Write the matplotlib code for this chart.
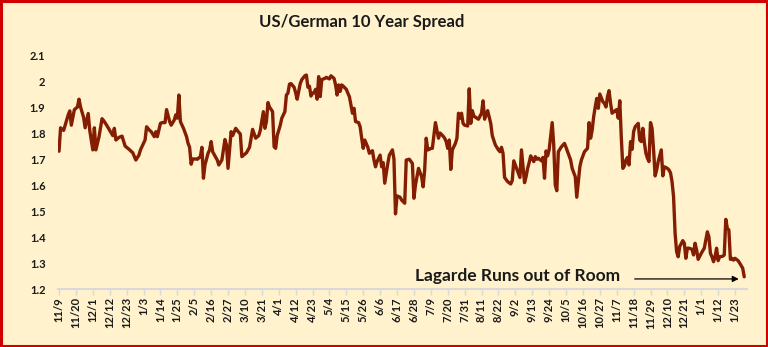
import matplotlib
matplotlib.use("Agg")
import matplotlib.pyplot as plt
import matplotlib.dates as mdates
from matplotlib.patches import Rectangle
import pandas as pd

# Daily US 10y minus German 10y yield spread (percentage points)
dates = [
    "2021-11-09", "2021-11-10", "2021-11-12", "2021-11-13", "2021-11-15", "2021-11-16", "2021-11-17",
    "2021-11-19", "2021-11-21", "2021-11-22", "2021-11-23", "2021-11-25", "2021-11-26", "2021-11-28",
    "2021-11-29",
    "2021-12-01", "2021-12-02", "2021-12-03", "2021-12-05", "2021-12-07", "2021-12-08", "2021-12-10",
    "2021-12-12", "2021-12-14", "2021-12-15", "2021-12-16", "2021-12-18", "2021-12-20", "2021-12-22",
    "2021-12-23", "2021-12-25", "2021-12-27", "2021-12-29", "2021-12-31",
    "2022-01-01", "2022-01-03", "2022-01-04", "2022-01-05", "2022-01-07", "2022-01-08", "2022-01-10",
    "2022-01-11", "2022-01-12", "2022-01-14", "2022-01-15", "2022-01-17", "2022-01-18", "2022-01-20",
    "2022-01-21", "2022-01-23", "2022-01-24", "2022-01-25", "2022-01-26", "2022-01-27", "2022-01-29",
    "2022-01-31",
    "2022-02-01", "2022-02-02", "2022-02-03", "2022-02-04", "2022-02-06", "2022-02-07", "2022-02-09",
    "2022-02-10", "2022-02-11", "2022-02-12", "2022-02-14", "2022-02-15", "2022-02-16", "2022-02-17",
    "2022-02-20", "2022-02-21", "2022-02-23", "2022-02-24", "2022-02-25", "2022-02-26", "2022-02-27",
    "2022-03-01", "2022-03-02", "2022-03-04", "2022-03-05", "2022-03-07", "2022-03-08", "2022-03-10",
    "2022-03-11", "2022-03-13", "2022-03-14", "2022-03-15", "2022-03-17", "2022-03-19", "2022-03-20",
    "2022-03-22", "2022-03-23", "2022-03-24", "2022-03-25", "2022-03-26", "2022-03-28", "2022-03-29",
    "2022-03-30", "2022-03-31",
    "2022-04-02", "2022-04-03", "2022-04-05", "2022-04-06", "2022-04-07", "2022-04-08", "2022-04-09",
    "2022-04-11", "2022-04-12", "2022-04-13", "2022-04-15", "2022-04-16", "2022-04-18", "2022-04-19",
    "2022-04-20", "2022-04-21", "2022-04-22", "2022-04-23", "2022-04-24", "2022-04-25", "2022-04-26",
    "2022-04-27", "2022-04-28", "2022-04-29",
    "2022-05-01", "2022-05-02", "2022-05-04", "2022-05-05", "2022-05-07", "2022-05-08", "2022-05-09",
    "2022-05-10", "2022-05-11", "2022-05-12", "2022-05-13", "2022-05-15", "2022-05-16", "2022-05-17",
    "2022-05-19", "2022-05-20", "2022-05-21", "2022-05-23", "2022-05-24", "2022-05-25", "2022-05-26",
    "2022-05-27", "2022-05-29", "2022-05-30",
    "2022-06-01", "2022-06-02", "2022-06-03", "2022-06-04", "2022-06-06", "2022-06-07", "2022-06-08",
    "2022-06-09", "2022-06-11", "2022-06-12", "2022-06-14", "2022-06-15", "2022-06-16", "2022-06-17",
    "2022-06-19", "2022-06-20", "2022-06-22", "2022-06-23", "2022-06-25", "2022-06-27", "2022-06-28",
    "2022-06-29",
    "2022-07-01", "2022-07-03", "2022-07-04", "2022-07-05", "2022-07-06", "2022-07-07", "2022-07-08",
    "2022-07-09", "2022-07-10", "2022-07-11", "2022-07-12", "2022-07-14", "2022-07-15", "2022-07-17",
    "2022-07-18", "2022-07-19", "2022-07-20", "2022-07-21", "2022-07-22", "2022-07-23", "2022-07-25",
    "2022-07-26", "2022-07-27", "2022-07-28", "2022-07-29", "2022-07-30", "2022-07-31",
    "2022-08-02", "2022-08-03", "2022-08-04", "2022-08-05", "2022-08-06", "2022-08-08", "2022-08-09",
    "2022-08-11", "2022-08-12", "2022-08-13", "2022-08-14", "2022-08-15", "2022-08-17", "2022-08-18",
    "2022-08-20", "2022-08-22", "2022-08-23", "2022-08-24", "2022-08-25", "2022-08-26", "2022-08-28",
    "2022-08-30", "2022-08-31",
    "2022-09-01", "2022-09-02", "2022-09-04", "2022-09-05", "2022-09-06", "2022-09-08", "2022-09-09",
    "2022-09-10", "2022-09-11", "2022-09-12", "2022-09-14", "2022-09-15", "2022-09-16", "2022-09-17",
    "2022-09-19", "2022-09-20", "2022-09-21", "2022-09-22", "2022-09-23", "2022-09-24", "2022-09-26",
    "2022-09-27", "2022-09-28", "2022-09-29", "2022-09-30",
    "2022-10-02", "2022-10-04", "2022-10-05", "2022-10-08", "2022-10-09", "2022-10-11", "2022-10-12",
    "2022-10-14", "2022-10-15", "2022-10-17", "2022-10-19", "2022-10-20", "2022-10-21", "2022-10-22",
    "2022-10-23", "2022-10-24", "2022-10-25", "2022-10-26", "2022-10-27", "2022-10-29", "2022-10-30",
    "2022-10-31",
    "2022-11-01", "2022-11-02", "2022-11-03", "2022-11-04", "2022-11-06", "2022-11-07", "2022-11-08",
    "2022-11-09", "2022-11-10", "2022-11-11", "2022-11-12", "2022-11-13", "2022-11-14", "2022-11-15",
    "2022-11-16", "2022-11-17", "2022-11-18", "2022-11-19", "2022-11-21", "2022-11-22", "2022-11-23",
    "2022-11-24", "2022-11-25", "2022-11-26", "2022-11-27", "2022-11-28", "2022-11-29", "2022-11-30",
    "2022-12-01", "2022-12-02", "2022-12-03", "2022-12-04", "2022-12-05", "2022-12-06", "2022-12-07",
    "2022-12-08", "2022-12-10", "2022-12-11", "2022-12-12", "2022-12-13", "2022-12-14", "2022-12-15",
    "2022-12-16", "2022-12-17", "2022-12-18", "2022-12-20", "2022-12-21", "2022-12-22", "2022-12-23",
    "2022-12-24", "2022-12-26", "2022-12-27", "2022-12-28", "2022-12-29", "2022-12-30",
    "2023-01-01", "2023-01-03", "2023-01-04", "2023-01-05", "2023-01-06", "2023-01-07", "2023-01-08",
    "2023-01-09", "2023-01-10", "2023-01-11", "2023-01-12", "2023-01-13", "2023-01-15", "2023-01-16",
    "2023-01-17", "2023-01-18", "2023-01-19", "2023-01-20", "2023-01-21", "2023-01-22", "2023-01-23",
    "2023-01-25", "2023-01-26", "2023-01-28", "2023-01-29",
]

spread = [
    1.73, 1.82, 1.81, 1.83, 1.87, 1.885, 1.83,
    1.89, 1.90, 1.93, 1.90, 1.86, 1.82, 1.875,
    1.81,
    1.735, 1.82, 1.735, 1.785, 1.855, 1.848, 1.83,
    1.81, 1.79, 1.818, 1.773, 1.783, 1.788, 1.75,
    1.745, 1.735, 1.724, 1.696, 1.715,
    1.735, 1.76, 1.773, 1.824, 1.81, 1.805, 1.786,
    1.805, 1.786, 1.837, 1.84, 1.84, 1.89, 1.844,
    1.83, 1.85, 1.87, 1.857, 1.946, 1.844, 1.818,
    1.786,
    1.76, 1.745, 1.68, 1.70, 1.70, 1.699, 1.709,
    1.745, 1.626, 1.677, 1.722, 1.735, 1.767, 1.728,
    1.696, 1.677, 1.696, 1.735, 1.775, 1.754, 1.664,
    1.805, 1.79, 1.818, 1.81, 1.796, 1.709, 1.719,
    1.724, 1.745, 1.78, 1.814, 1.78, 1.79, 1.81,
    1.882, 1.818, 1.844, 1.917, 1.90, 1.882, 1.747,
    1.741, 1.79,
    1.83, 1.857, 1.882, 1.946, 1.953, 1.988, 1.99,
    1.976, 1.955, 1.93, 1.99, 2.005, 2.02, 2.023,
    1.976, 1.98, 1.942, 1.953, 1.955, 1.968, 1.93,
    2.017, 1.94, 2.005,
    2.01, 2.014, 2.008, 2.02, 2.01, 1.985, 1.946,
    1.985, 1.96, 1.985, 1.98, 1.968, 1.953, 1.94,
    1.876, 1.895, 1.844, 1.84, 1.824, 1.78, 1.741,
    1.773, 1.745, 1.722,
    1.732, 1.696, 1.67, 1.69, 1.715, 1.67, 1.686,
    1.607, 1.683, 1.715, 1.735, 1.70, 1.489, 1.558,
    1.553, 1.542, 1.53, 1.696, 1.699, 1.683, 1.549,
    1.60,
    1.664, 1.632, 1.593, 1.658, 1.78, 1.735, 1.737,
    1.741, 1.741, 1.79, 1.84, 1.78, 1.80, 1.788,
    1.78, 1.767, 1.741, 1.773, 1.66, 1.735, 1.76,
    1.78, 1.876, 1.857, 1.876, 1.837, 1.83,
    1.827, 1.97, 1.837, 1.886, 1.865, 1.857, 1.853,
    1.876, 1.924, 1.853, 1.869, 1.886, 1.837, 1.79,
    1.754, 1.735, 1.728, 1.745, 1.722, 1.629, 1.613,
    1.604, 1.617,
    1.693, 1.677, 1.645, 1.629, 1.735, 1.609, 1.632,
    1.664, 1.686, 1.712, 1.69, 1.709, 1.699, 1.703,
    1.693, 1.706, 1.626, 1.731, 1.712, 1.735, 1.84,
    1.754, 1.60, 1.578, 1.728,
    1.747, 1.76, 1.745, 1.696, 1.664, 1.632, 1.553,
    1.67, 1.696, 1.728, 1.741, 1.84, 1.78, 1.81,
    1.863, 1.90, 1.933, 1.895, 1.95, 1.92, 1.914,
    1.90,
    1.94, 1.963, 1.914, 1.876, 1.886, 1.89, 1.857,
    1.924, 1.78, 1.664, 1.673, 1.696, 1.706, 1.677,
    1.767, 1.737, 1.805, 1.824, 1.837, 1.773, 1.767,
    1.818, 1.763, 1.722, 1.703, 1.69, 1.84, 1.818,
    1.735, 1.635, 1.658, 1.69, 1.712, 1.735, 1.635,
    1.67, 1.664, 1.658, 1.647, 1.613, 1.555, 1.414,
    1.343, 1.324, 1.363, 1.386, 1.376, 1.318, 1.357,
    1.357, 1.353, 1.331, 1.376, 1.35, 1.314,
    1.337, 1.357, 1.388, 1.42, 1.401, 1.337, 1.324,
    1.305, 1.324, 1.357, 1.309, 1.324, 1.326, 1.331,
    1.468, 1.433, 1.427, 1.314, 1.318, 1.311, 1.318,
    1.309, 1.30, 1.28, 1.247,
]

tick_labels = [
    "11/9", "11/20", "12/1", "12/12", "12/23", "1/3", "1/14", "1/25", "2/5", "2/16", "2/27",
    "3/10", "3/21", "4/1", "4/12", "4/23", "5/4", "5/15", "5/26", "6/6", "6/17", "6/28",
    "7/9", "7/20", "7/31", "8/11", "8/22", "9/2", "9/13", "9/24", "10/5", "10/16", "10/27",
    "11/7", "11/18", "11/29", "12/10", "12/21", "1/1", "1/12", "1/23",
]
tick_start = "2021-11-09"
y_ticks = [1.2, 1.3, 1.4, 1.5, 1.6, 1.7, 1.8, 1.9, 2.0, 2.1]

title = "US/German 10 Year Spread"
note = "Lagarde Runs out of Room"

BG = "#FFF2CC"
LINE = "#841E02"
FONT = ["Lato", "DejaVu Sans"]

x = pd.to_datetime(dates)
tick_dates = pd.date_range(tick_start, periods=len(tick_labels), freq="11D")

fig = plt.figure(figsize=(7.68, 3.47), dpi=100, facecolor=BG)
ax = fig.add_axes([58 / 768, 1 - 289 / 347, 689 / 768, 234 / 347])
ax.set_facecolor("none")

ax.plot(x, spread, color=LINE, linewidth=2.4, solid_joinstyle="round", solid_capstyle="round")

t0 = pd.Timestamp(tick_start)
ax.set_xlim(t0 - pd.Timedelta(hours=16), t0 + pd.Timedelta(days=447.8))
ax.set_ylim(1.2, 2.1)

ax.set_xticks(tick_dates)
ax.set_xticklabels(tick_labels, rotation=90, fontsize=8, fontweight="bold",
                   family=FONT, color="#1a1a1a")
ax.set_yticks(y_ticks)
ax.set_yticklabels([f"{v:g}" for v in y_ticks], fontsize=8, fontweight="bold",
                   family=FONT, color="#1a1a1a")

ax.tick_params(axis="x", length=4, width=1, color="#D9D9D9", pad=2)
ax.tick_params(axis="y", length=0, pad=9)
for side in ("top", "right", "left"):
    ax.spines[side].set_visible(False)
ax.spines["bottom"].set_color("#D9D9D9")
ax.spines["bottom"].set_linewidth(1.5)

fig.text(362 / 768, 1 - 22 / 347, title, ha="center", va="center",
         fontsize=12, fontweight="bold", family=FONT, color="#1a1a1a")

ax.text(0.518, 0.056, note, transform=ax.transAxes, ha="left", va="center",
        fontsize=12.5, fontweight="bold", family=FONT, color="#1a1a1a")
ax.annotate("", xy=(0.988, 0.043), xytext=(0.837, 0.043),
            xycoords="axes fraction", textcoords="axes fraction",
            arrowprops=dict(arrowstyle="-|>", color="black", lw=0.9,
                            mutation_scale=9, shrinkA=0, shrinkB=0))

fig.patches.append(Rectangle((0.0015, 0.003), 0.997, 0.994, transform=fig.transFigure,
                             fill=False, edgecolor="#D00000", linewidth=2.2))

fig.savefig("out.png", dpi=100, facecolor=BG)
